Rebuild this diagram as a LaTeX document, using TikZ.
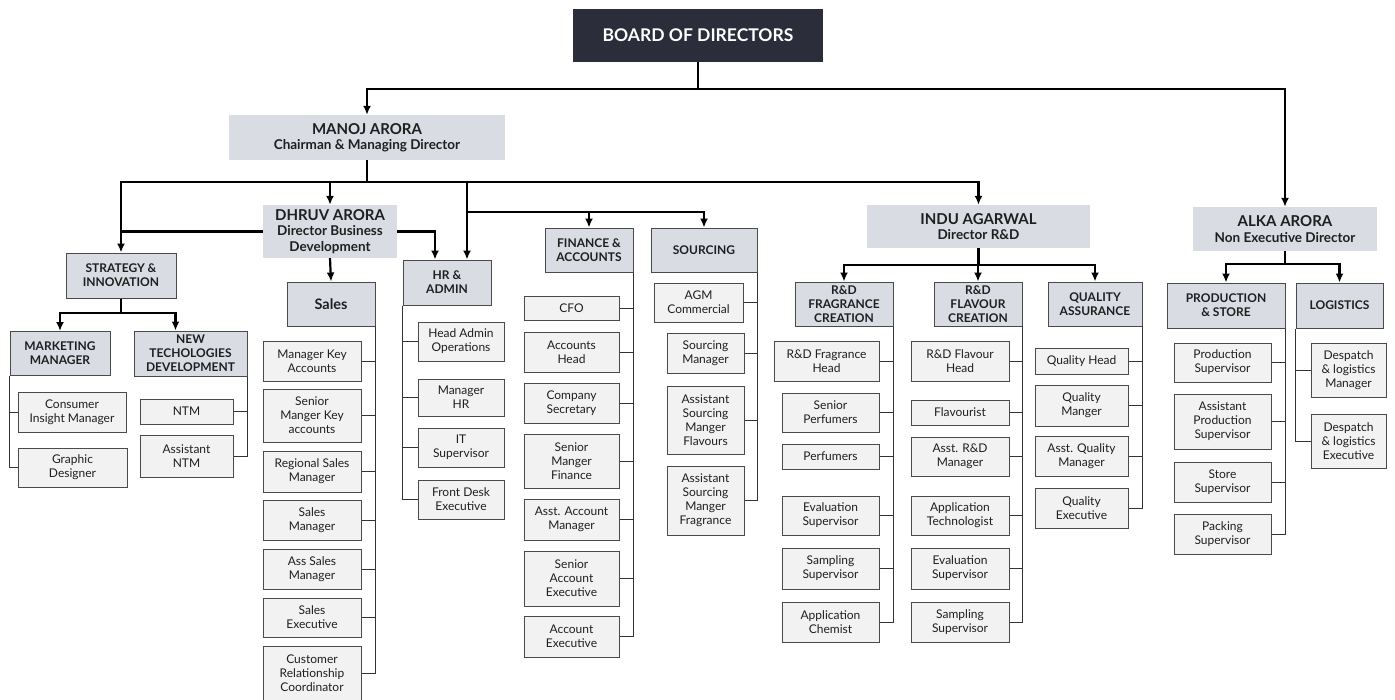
\documentclass[tikz,border=0pt]{standalone}
\usepackage{fontspec}
\setmainfont{Lato}
\usepackage{tikz}
\usetikzlibrary{positioning,arrows.meta}
\definecolor{boardbg}{HTML}{2B2D3A}
\definecolor{headbg}{HTML}{D9DCE3}
\definecolor{jobbg}{HTML}{F2F2F2}
\definecolor{edge}{HTML}{4A4A4A}
\definecolor{ink}{HTML}{1F1F1F}
\newcommand{\dname}[1]{{\fontsize{15}{17}\selectfont #1}}
\tikzset{
 board/.style
  = {fill=boardbg, text=white, font=\fontsize{17.5}{20}\selectfont\bfseries,
     minimum width=250pt, minimum height=53pt},
 dir/.style 2 args
  = {fill=headbg, text=ink, align=center, inner sep=0pt,
     font=\fontsize{13.5}{15.5}\selectfont\bfseries,
     minimum width=#1pt, minimum height=#2pt},
 dept/.style 2 args
  = {fill=headbg, draw=edge, line width=1pt, text=ink, align=center, inner sep=0pt,
     font=\fontsize{12}{14}\selectfont\bfseries,
     minimum width=#1pt, minimum height=#2pt},
 job/.style 2 args
  = {fill=jobbg, draw=edge, line width=1pt, text=ink, align=center, inner sep=0pt,
     font=\fontsize{12}{14}\selectfont,
     minimum width=#1pt, minimum height=#2pt},
 link/.style
  = {draw, line width=2.2pt},
 arrow/.style
  = {link, -{Latex[length=9pt,width=8pt]}},
 spine/.style
  = {draw=black!80, line width=0.9pt},
}

\begin{document}
\begin{tikzpicture}[x=1pt, y=-1pt]
\useasboundingbox (0,0) rectangle (1395,699);

% Board and directors
\node[board] (board) at (698,35.5) {BOARD OF DIRECTORS};
\node[dir={276}{45}] (manoj) at (367,137.5) {\dname{MANOJ ARORA}\\Chairman \& Managing Director};
\node[dir={134}{53}] (dhruv) at (330,231.5) {\dname{DHRUV ARORA}\\Director Business\\Development};
\node[dir={223}{43}] (indu) at (978.5,226.5) {\dname{INDU AGARWAL}\\Director R\&D};
\node[dir={184}{44}] (alka) at (1285,229) {\dname{ALKA ARORA}\\Non Executive Director};

% Departments
\node[dept={110}{45}] (strat) at (121,275.5) {STRATEGY \&\\INNOVATION};
\node[dept={100}{44}] (mkt) at (60,353.5) {MARKETING\\MANAGER};
\node[dept={113}{45}] (ntd) at (190.5,353.5) {NEW\\TECHOLOGIES\\DEVELOPMENT};
\node[dept={88}{44}, font=\fontsize{14.5}{16}\selectfont\bfseries] (sales) at (331,304) {Sales};
\node[dept={88}{45}] (hr) at (447,282.5) {HR \&\\ADMIN};
\node[dept={88}{44}] (fin) at (589,250) {FINANCE \&\\ACCOUNTS};
\node[dept={106}{44}] (src) at (704,250) {SOURCING};
\node[dept={98}{44}] (frag) at (844,304) {R\&D\\FRAGRANCE\\CREATION};
\node[dept={88}{44}] (flav) at (978,304) {R\&D\\FLAVOUR\\CREATION};
\node[dept={94}{44}] (qa) at (1095,304) {QUALITY\\ASSURANCE};
\node[dept={118}{45}] (prod) at (1226,305.5) {PRODUCTION\\\& STORE};
\node[dept={87}{45}] (log) at (1339.5,305.5) {LOGISTICS};

% Strategy
\node[job={108}{40}] (cim) at (72,412) {Consumer\\Insight Manager};
\node[job={109}{39}] (gd) at (72.5,467.5) {Graphic\\Designer};
\node[job={93}{25}] (ntm) at (186.5,411.5) {NTM};
\node[job={93}{42}] (antm) at (186.5,456) {Assistant\\NTM};

% Sales
\node[job={98}{40}] (mka) at (312,361) {Manager Key\\Accounts};
\node[job={98}{53}] (smka) at (312,415.5) {Senior\\Manger Key\\accounts};
\node[job={98}{41}] (rsm) at (312,471.5) {Regional Sales\\Manager};
\node[job={98}{40}] (smg) at (312,520) {Sales\\Manager};
\node[job={98}{40}] (asm) at (312,569) {Ass Sales\\Manager};
\node[job={98}{39}] (sex) at (312,617.5) {Sales\\Executive};
\node[job={98}{54}] (crc) at (312,673) {Customer\\Relationship\\Coordinator};

% HR and admin
\node[job={86}{39}] (ham) at (461,341.5) {Head Admin\\Operations};
\node[job={86}{37}] (mhr) at (461,397.5) {Manager\\HR};
\node[job={86}{39}] (its) at (461,447.5) {IT\\Supervisor};
\node[job={86}{39}] (fde) at (461,499.5) {Front Desk\\Executive};

% Finance
\node[job={95}{24}] (cfo) at (571.5,308) {CFO};
\node[job={95}{40}] (ach) at (571.5,352) {Accounts\\Head};
\node[job={95}{40}] (cse) at (571.5,403) {Company\\Secretary};
\node[job={95}{54}] (smf) at (571.5,461) {Senior\\Manger\\Finance};
\node[job={95}{41}] (aam) at (571.5,519.5) {Asst. Account\\Manager};
\node[job={95}{55}] (sae) at (571.5,578.5) {Senior\\Account\\Executive};
\node[job={95}{41}] (aex) at (571.5,636.5) {Account\\Executive};

% Sourcing
\node[job={89}{39}] (agm) at (698.5,302.5) {AGM\\Commercial};
\node[job={77}{40}] (srm) at (705.5,353) {Sourcing\\Manager};
\node[job={77}{68}] (asfl) at (705.5,420) {Assistant\\Sourcing\\Manger\\Flavours};
\node[job={77}{69}] (asfr) at (705.5,500.5) {Assistant\\Sourcing\\Manger\\Fragrance};

% R&D fragrance
\node[job={105}{40}] (rfh) at (826.5,361) {R\&D Fragrance\\Head};
\node[job={97}{39}] (spf) at (830.5,412.5) {Senior\\Perfumers};
\node[job={97}{25}] (pfm) at (830.5,456.5) {Perfumers};
\node[job={97}{39}] (evf) at (830.5,515.5) {Evaluation\\Supervisor};
\node[job={97}{41}] (spr) at (830.5,568.5) {Sampling\\Supervisor};
\node[job={97}{40}] (apc) at (830.5,622) {Application\\Chemist};

% R&D flavour
\node[job={98}{40}] (rflh) at (960,361) {R\&D Flavour\\Head};
\node[job={98}{25}] (flv) at (960,412.5) {Flavourist};
\node[job={98}{39}] (ardm) at (960,456.5) {Asst. R\&D\\Manager};
\node[job={98}{39}] (apt) at (960,515.5) {Application\\Technologist};
\node[job={98}{41}] (evl) at (960,568.5) {Evaluation\\Supervisor};
\node[job={98}{40}] (spl) at (960,622) {Sampling\\Supervisor};

% Quality
\node[job={93}{26}] (qh) at (1081.5,361) {Quality Head};
\node[job={93}{41}] (qm) at (1081.5,405.5) {Quality\\Manger};
\node[job={93}{40}] (aqm) at (1081.5,456) {Asst. Quality\\Manager};
\node[job={93}{40}] (qe) at (1081.5,508) {Quality\\Executive};

% Production and logistics
\node[job={97}{39}] (ps) at (1222.5,362.5) {Production\\Supervisor};
\node[job={97}{55}] (aps) at (1222.5,421.5) {Assistant\\Production\\Supervisor};
\node[job={97}{40}] (ss) at (1222.5,482) {Store\\Supervisor};
\node[job={97}{40}] (pks) at (1222.5,534) {Packing\\Supervisor};
\node[job={75}{54}] (dlm) at (1348.5,370) {Despatch\\\& logistics\\Manager};
\node[job={75}{54}] (dle) at (1348.5,441) {Despatch\\\& logistics\\Executive};

% Bus points
\coordinate (bbus) at (698,89);
\coordinate (mbus) at (367,182);
\coordinate (fbus) at (467,212);
\coordinate (sbus) at (121,313);
\coordinate (ibus) at (978.5,265);
\coordinate (abus) at (1285,264);

% Main connectors
\draw[link] (board.south) -- (bbus);
\draw[arrow] (bbus) -| (manoj.north);
\draw[arrow] (bbus) -| (alka.north);
\draw[link] (manoj.south) -- (mbus);
\draw[arrow] (mbus) -| (strat.north);
\draw[arrow] (mbus) -| (dhruv.north);
\draw[arrow] (mbus) -| (indu.north);
\draw[arrow] (mbus) -| ([xshift=20pt]hr.north);
\draw[arrow] (fbus) -| (fin.north);
\draw[arrow] (fbus) -| (src.north);
\draw[link] (dhruv.west) -- (dhruv.west -| strat.north);
\draw[arrow] (dhruv.east) -| ([xshift=-12pt]hr.north);
\draw[arrow] (dhruv.south) -- (sales.north);
\draw[link] (strat.south) -- (sbus);
\draw[arrow] (sbus) -| (mkt.north);
\draw[arrow] (sbus) -| ([xshift=-15pt]ntd.north);
\draw[link] (indu.south) -- (ibus);
\draw[arrow] (ibus) -| (frag.north);
\draw[arrow] (ibus) -| (flav.north);
\draw[arrow] (ibus) -| (qa.north);
\draw[link] (alka.south) -- (abus);
\draw[arrow] (abus) -| (prod.north);
\draw[arrow] (abus) -| (log.north);

% Spines
\foreach \c in {cim,gd} \draw[spine] (mkt.south west) |- (\c.west);
\foreach \c in {ntm,antm} \draw[spine] (ntd.south east) |- (\c.east);
\foreach \c in {mka,smka,rsm,smg,asm,sex,crc} \draw[spine] (sales.south east) |- (\c.east);
\foreach \c in {ham,mhr,its,fde} \draw[spine] (hr.south west) |- (\c.west);
\foreach \c in {cfo,ach,cse,smf,aam,sae,aex} \draw[spine] (fin.south east) |- (\c.east);
\foreach \c in {agm,srm,asfl,asfr} \draw[spine] (src.south east) |- (\c.east);
\foreach \c in {rfh,spf,pfm,evf,spr,apc} \draw[spine] (frag.south east) |- (\c.east);
\foreach \c in {rflh,flv,ardm,apt,evl,spl} \draw[spine] (flav.south east) |- (\c.east);
\foreach \c in {qh,qm,aqm,qe} \draw[spine] (qa.south east) |- (\c.east);
\foreach \c in {ps,aps,ss,pks} \draw[spine] (prod.south east) |- (\c.east);
\foreach \c in {dlm,dle} \draw[spine] (log.south west) |- (\c.west);

\end{tikzpicture}
\end{document}
